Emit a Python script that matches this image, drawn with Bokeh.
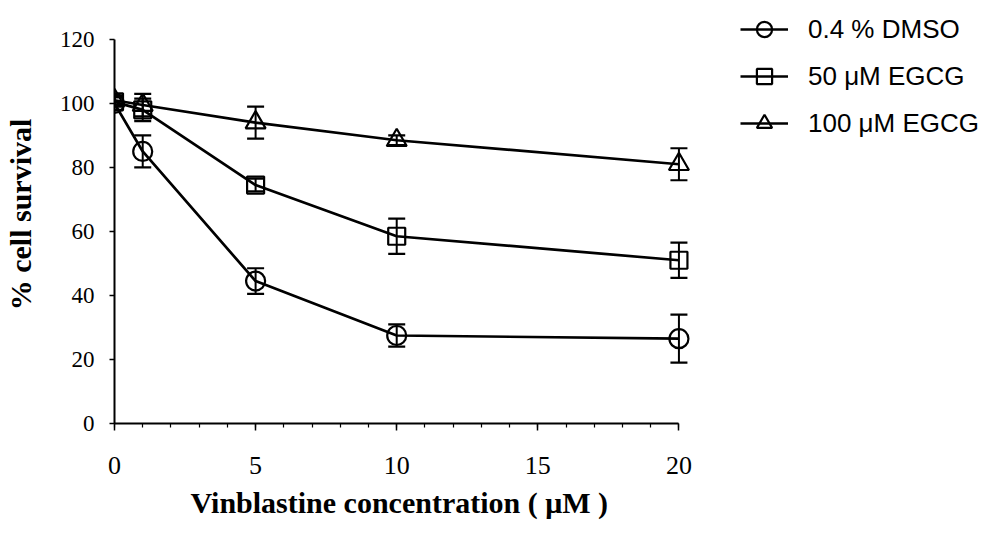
from bokeh.plotting import figure
from bokeh.models import (Range1d, Whisker, TeeHead, ColumnDataSource, Legend,
                          LegendItem, FixedTicker, Title)
from bokeh.embed import file_html
from bokeh.resources import INLINE

# Vinblastine concentration (uM)
conc = [0, 1, 5, 10, 20]

# % cell survival, mean and error for each treatment
dmso_mean = [100, 85, 44.5, 27.5, 26.5]
dmso_err = [2, 5, 4, 3.5, 7.5]
egcg50_mean = [100.5, 98, 74.5, 58.5, 51]
egcg50_err = [1.5, 3.5, 2, 5.5, 5.5]
egcg100_mean = [101, 99.5, 94, 88.5, 81]
egcg100_err = [1.5, 3.5, 5, 1.5, 5]

series_names = ["0.4 % DMSO", "50 \u03bcM EGCG", "100 \u03bcM EGCG"]

x_ticks = [0, 5, 10, 15, 20]
y_ticks = [0, 20, 40, 60, 80, 100, 120]

SERIF = "Liberation Serif"
SANS = "Liberation Sans"

# The frame reaches past the axes' ends so the key on the right is not clipped;
# the axes themselves are bounded to 0-20 and 0-120.
p = figure(width=999, height=533, output_backend="svg", toolbar_location=None,
           x_range=Range1d(0, 31.04), y_range=Range1d(0, 130.6),
           min_border_left=110, min_border_right=9,
           min_border_top=5, min_border_bottom=110)
p.outline_line_color = None
p.xgrid.visible = False
p.ygrid.visible = False
p.background_fill_color = "white"
p.border_fill_color = "white"

# axes
p.xaxis.bounds = (0, 20)
p.yaxis.bounds = (0, 120)
p.xaxis.ticker = FixedTicker(ticks=x_ticks, minor_ticks=list(range(0, 21)))
p.yaxis.ticker = FixedTicker(ticks=y_ticks, minor_ticks=[])
for ax in (p.xaxis, p.yaxis):
    ax.axis_line_color = "black"
    ax.axis_line_width = 2
    ax.major_tick_line_color = "black"
    ax.major_tick_line_width = 1.5
    ax.minor_tick_line_color = "black"
    ax.minor_tick_line_width = 1.2
    ax.major_tick_in = 0
    ax.minor_tick_in = 0
    ax.major_label_text_font = SERIF
    ax.major_label_text_color = "black"
    ax.axis_label_text_font = SERIF
    ax.axis_label_text_font_style = "bold"
    ax.axis_label_text_font_size = "30px"
    ax.axis_label_text_color = "black"

p.xaxis.major_tick_out = 7
p.xaxis.minor_tick_out = 4
p.yaxis.major_tick_out = 5
p.xaxis.major_label_text_font_size = "26px"
p.yaxis.major_label_text_font_size = "23px"
p.xaxis.major_label_standoff = 26
p.yaxis.major_label_standoff = 15
p.yaxis.axis_label = "% cell survival"
p.yaxis.axis_label_standoff = 20

# x-axis title, centred under the bounded 0-20 axis rather than the whole frame
x_title = Title(text="Vinblastine concentration ( \u03bcM )", align="left",
                offset=76, text_font=SERIF, text_font_style="bold",
                text_font_size="30px", text_color="black", standoff=15)
p.add_layout(x_title, "below")

series = [
    (dmso_mean, dmso_err, "circle", 19),
    (egcg50_mean, egcg50_err, "square", 17),
    (egcg100_mean, egcg100_err, "triangle", 20),
]

items = []
for name, (mean, err, marker, size) in zip(series_names, series):
    src = ColumnDataSource(dict(
        x=conc, y=mean,
        lower=[m - e for m, e in zip(mean, err)],
        upper=[m + e for m, e in zip(mean, err)],
    ))
    ln = p.line("x", "y", source=src, line_color="black", line_width=2.7)
    sc = p.scatter("x", "y", source=src, marker=marker, size=size,
                   fill_color=None, line_color="black", line_width=2.2)
    wh = Whisker(base="x", lower="lower", upper="upper", source=src,
                 line_color="black", line_width=2,
                 lower_head=TeeHead(size=17, line_color="black", line_width=2.2),
                 upper_head=TeeHead(size=17, line_color="black", line_width=2.2))
    p.add_layout(wh)
    items.append(LegendItem(label=name, renderers=[ln, sc]))

legend = Legend(items=items, location=(626, 281),
                glyph_width=48, glyph_height=38, spacing=9,
                label_standoff=20, label_height=20,
                label_text_font=SANS, label_text_font_size="26px",
                label_text_color="black",
                padding=0, margin=0,
                border_line_color=None, background_fill_alpha=0)
p.add_layout(legend, "center")

open("out.html", "w").write(file_html(p, INLINE))
